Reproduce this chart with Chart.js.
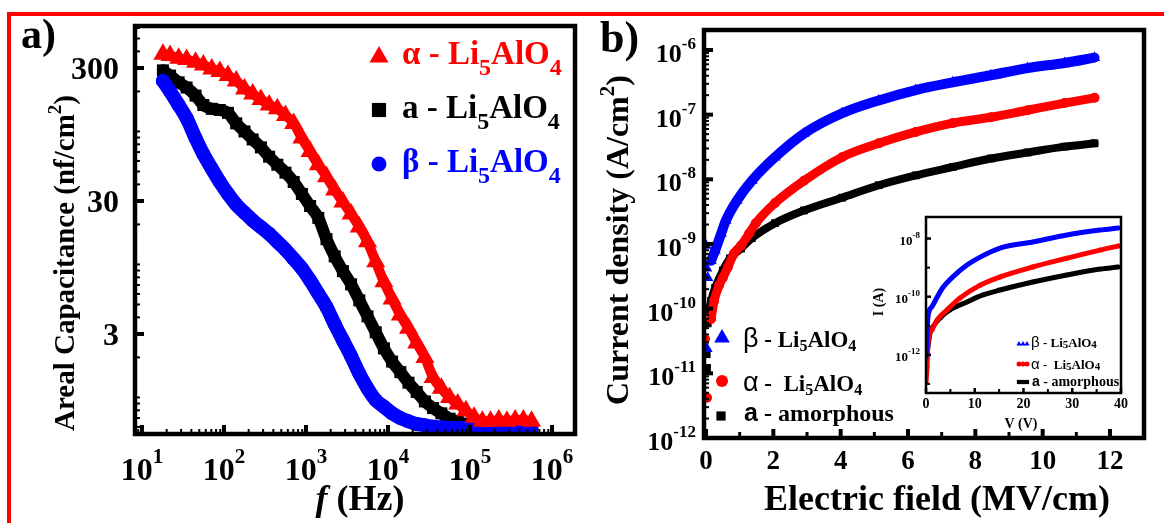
<!DOCTYPE html>
<html>
<head>
<meta charset="utf-8">
<script src="https://cdn.jsdelivr.net/npm/chart.js@4.4.0/dist/chart.umd.min.js"></script>
<style>
  body { margin: 0; background: #fff; }
  #page { position: relative; width: 1164px; height: 523px; overflow: hidden; background: #fff; }
  #page canvas { position: absolute; left: 0; top: 0; }
  #frame { position: absolute; left: 7px; top: 12px; right: -10px; bottom: -10px;
           border-top: 4px solid #ff0000; border-left: 4px solid #ff0000; }
</style>
</head>
<body>
<div id="page">
  <div id="frame"></div>
  <canvas id="capChart" width="1164" height="523"></canvas>
  <canvas id="ivChart" width="1164" height="523"></canvas>
  <canvas id="insetChart" width="1164" height="523"></canvas>
</div>
<script>
const SERIF = '"Liberation Serif", "Times New Roman", serif';
const SANS = '"Liberation Sans", Arial, sans-serif';
const RED = '#ff0000', BLUE = '#0000ff', BLACK = '#000000';

// (a) areal capacitance vs frequency
const freqHz = [18, 22, 28, 35, 45, 56, 71, 89, 112, 141, 178, 224, 282, 355, 447, 562, 708, 891,
  1122, 1413, 1778, 2239, 2818, 3548, 4467, 5623, 7079, 8913, 11220, 14130, 17780, 22390, 28180,
  35480, 44670, 56230, 70790, 89130, 112200, 141300, 177800, 223900, 281800, 354800, 446700, 562300];
const capAlpha = [380, 372, 355, 347, 331, 316, 295, 282, 263, 240, 209, 191, 174, 158, 148, 132, 115, 89.1,
  70.8, 56.2, 45.7, 36.3, 29.5, 24.0, 19.1, 14.8, 10.5, 7.41, 5.50, 4.17, 3.31, 2.57, 2.00,
  1.41, 1.17, 1.00, 0.891, 0.794, 0.708, 0.661, 0.661, 0.676, 0.661, 0.676, 0.676, 0.661];
const capAmorph = [288, 263, 234, 214, 186, 158, 148, 145, 138, 115, 100, 87.1, 75.9, 64.6, 56.2, 49.0, 41.7, 33.9,
  27.5, 22.4, 15.5, 11.5, 8.91, 7.08, 5.37, 4.07, 3.09, 2.34, 1.86, 1.55, 1.29, 1.10, 0.933,
  0.832, 0.759, 0.692, 0.661, 0.631, 0.617, 0.610, 0.603, 0.603, 0.596, 0.589, 0.589, 0.589];
const capBeta = [240, 200, 158, 126, 89.1, 67.6, 52.5, 41.7, 33.9, 28.2, 24.5, 21.4, 19.1, 17.0, 14.8, 12.9, 11.0, 9.33,
  7.59, 6.03, 4.79, 3.55, 2.69, 2.04, 1.51, 1.17, 0.955, 0.851, 0.759, 0.700, 0.661, 0.631, 0.617,
  0.603, 0.596, 0.589, 0.589, 0.589, 0.582, 0.582, 0.578, 0.578, 0.575, 0.575, 0.575, 0.575];
const capTicks = [3, 30, 300];

// (b) current density vs electric field (MV/cm, A/cm2)
const fieldBeta = [0.15, 0.27, 0.45, 0.59, 0.92, 1.36, 2.05, 2.91, 4.04, 5.13, 6.23, 7.33, 8.46, 9.55, 10.65, 11.54];
const jBeta = [5.5e-10, 7.9e-10, 1.45e-9, 2.3e-9, 4.7e-9, 9.5e-9, 2.2e-8, 5.1e-8, 1.05e-7, 1.66e-7, 2.4e-7, 3.16e-7, 4.07e-7, 5.25e-7, 6.3e-7, 7.6e-7];
const fieldAlpha = [0.15, 0.24, 0.39, 0.5, 0.65, 0.83, 1.04, 1.28, 1.48, 2.05, 2.91, 4.04, 5.13, 6.23, 7.33, 8.46, 9.55, 10.65, 11.54];
const jAlpha = [6.9e-11, 1.32e-10, 2.3e-10, 3.0e-10, 4.4e-10, 7.1e-10, 9.5e-10, 1.45e-9, 2.1e-9, 4.3e-9, 9.5e-9, 2.2e-8, 3.6e-8, 5.4e-8, 7.4e-8, 9.1e-8, 1.17e-7, 1.51e-7, 1.82e-7];
const fieldAmorph = [0.09, 0.15, 0.27, 0.5, 0.71, 1.04, 1.36, 2.05, 2.91, 4.04, 5.13, 6.23, 7.33, 8.46, 9.55, 10.65, 11.54];
const jAmorph = [9.3e-11, 1.32e-10, 2.1e-10, 3.9e-10, 6.0e-10, 8.5e-10, 1.23e-9, 2.1e-9, 3.3e-9, 5.2e-9, 8.1e-9, 1.15e-8, 1.55e-8, 2.1e-8, 2.6e-8, 3.2e-8, 3.6e-8];
// scattered readings near zero field
const lowFieldBeta = [0.0, 0.02, 0.05, 0.03];
const lowJBeta = [9.5e-10, 4.2e-10, 3.0e-10, 2.4e-11];
const lowFieldAlpha = [-0.03, 0.03];
const lowJAlpha = [3.4e-11, 4.2e-12];
const lowFieldAmorph = [0.02, 0.01, 0.04];
const lowJAmorph = [1.2e-11, 2.0e-11, 6.0e-11];
const fieldTicks = [0, 2, 4, 6, 8, 10, 12];
const jExponents = [-12, -11, -10, -9, -8, -7, -6];

// inset: current vs voltage (V, A)
const voltBeta = [0, 0.4, 1.2, 2.3, 3.5, 5.5, 8.4, 11.1, 15.2, 21.9, 28.9, 35.7, 39.4];
const ampBeta = [8.5e-13, 2.0e-11, 4.5e-11, 9.8e-11, 2.1e-10, 4.8e-10, 1.23e-9, 2.3e-9, 4.7e-9, 7.6e-9, 1.32e-8, 1.95e-8, 2.3e-8];
const voltAlpha = [0, 0.2, 0.4, 1.2, 2.3, 4.3, 7.0, 11.1, 15.2, 21.9, 28.9, 35.7, 39.4];
const ampAlpha = [1.17e-13, 3.8e-13, 2.6e-12, 7.2e-12, 1.58e-11, 3.5e-11, 9.1e-11, 2.5e-10, 4.8e-10, 1.05e-9, 2.1e-9, 4.0e-9, 5.5e-9];
const voltAmorph = [0, 0.8, 1.4, 2.9, 4.9, 8.4, 11.7, 15.2, 21.9, 28.9, 35.7, 39.4];
const ampAmorph = [5.2e-13, 5.6e-12, 9.1e-12, 1.86e-11, 3.5e-11, 6.6e-11, 1.15e-10, 1.7e-10, 3.2e-10, 5.6e-10, 8.9e-10, 1.05e-9];
const voltTicks = [0, 10, 20, 30, 40];
const ampExponents = [-12, -10, -8];

function pairs(xs, ys) {
  return xs.map((v, i) => ({ x: v, y: ys[i] }));
}

// text made of runs with their own size / offset (sub- and superscripts)
function fontOf(p) {
  return (p.italic ? 'italic ' : '') + (p.weight || 'bold') + ' ' + p.size + 'px ' + (p.fam || SERIF);
}
function drawRich(ctx, parts, x, y, align, color) {
  ctx.save();
  ctx.fillStyle = color || BLACK;
  ctx.textAlign = 'left';
  ctx.textBaseline = 'alphabetic';
  let total = 0;
  const widths = parts.map(p => { ctx.font = fontOf(p); const w = ctx.measureText(p.t).width; total += w; return w; });
  let cx = align === 'center' ? x - total / 2 : align === 'right' ? x - total : x;
  parts.forEach((p, i) => {
    ctx.font = fontOf(p);
    ctx.fillText(p.t, cx, y + (p.dy || 0));
    cx += widths[i];
  });
  ctx.restore();
}
function drawRotated(ctx, parts, x, y, b) {
  ctx.save();
  ctx.translate(x, y);
  ctx.rotate(-Math.PI / 2);
  drawRich(ctx, parts, 0, b, 'center');
  ctx.restore();
}
function pow10(exp, size, supSize, rise) {
  return [{ t: '10', size: size }, { t: String(exp), size: supSize, dy: -rise }];
}

function marker(ctx, style, x, y, r, color) {
  ctx.save();
  ctx.fillStyle = color;
  ctx.beginPath();
  if (style === 'triangle') {
    ctx.moveTo(x, y - r);
    ctx.lineTo(x + r * 0.866, y + r * 0.5);
    ctx.lineTo(x - r * 0.866, y + r * 0.5);
    ctx.closePath();
  } else if (style === 'rect') {
    const s = r * Math.SQRT1_2;
    ctx.rect(x - s, y - s, 2 * s, 2 * s);
  } else {
    ctx.arc(x, y, r, 0, Math.PI * 2);
  }
  ctx.fill();
  ctx.restore();
}

function box(ctx, a, lw) {
  ctx.save();
  ctx.strokeStyle = BLACK;
  ctx.lineWidth = lw;
  ctx.strokeRect(a.left, a.top, a.right - a.left, a.bottom - a.top);
  ctx.restore();
}
function ticksX(ctx, scale, a, values, len, w) {
  values.forEach(v => {
    const px = scale.getPixelForValue(v);
    if (px < a.left - 1 || px > a.right + 1) return;
    ctx.fillRect(px - w / 2, a.bottom - len, w, len);
  });
}
function ticksY(ctx, scale, a, values, len, w) {
  values.forEach(v => {
    const py = scale.getPixelForValue(v);
    if (py < a.top - 1 || py > a.bottom + 1) return;
    ctx.fillRect(a.left, py - w / 2, len, w);
  });
}
function logMinors(lo, hi) {
  const out = [];
  for (let e = Math.floor(Math.log10(lo)); e <= Math.ceil(Math.log10(hi)); e++) {
    for (let m = 1; m < 10; m++) {
      const v = m * Math.pow(10, e);
      if (v >= lo && v <= hi) out.push(v);
    }
  }
  return out;
}

function bandSet(data, color, style, radius, width) {
  return {
    data: data, showLine: true, borderColor: color, backgroundColor: color,
    borderWidth: width, borderCapStyle: 'round', borderJoinStyle: 'round',
    cubicInterpolationMode: 'monotone',
    pointStyle: style, pointRadius: radius, pointBorderWidth: 0, pointHoverRadius: radius
  };
}
function dotSet(data, color, style, radius) {
  return {
    data: data, showLine: false, backgroundColor: color, borderColor: color,
    pointStyle: style, pointRadius: radius, pointBorderWidth: 0
  };
}

const baseOptions = {
  responsive: false,
  animation: false,
  devicePixelRatio: 1,
  plugins: { legend: { display: false }, tooltip: { enabled: false } },
  events: []
};

// ---------- panel (a) ----------
const capDecor = {
  id: 'capDecor',
  afterDraw(chart) {
    const { ctx, chartArea: a, scales: { x, y } } = chart;
    ctx.save();
    ctx.fillStyle = BLACK;
    ticksX(ctx, x, a, logMinors(x.min, x.max), 5, 2);
    ticksX(ctx, x, a, [10, 1e2, 1e3, 1e4, 1e5, 1e6], 9, 4);
    ticksY(ctx, y, a, logMinors(y.min, y.max), 5, 2);
    ticksY(ctx, y, a, capTicks, 9, 4);
    ctx.restore();
    box(ctx, a, 4.5);

    for (let k = 1; k <= 6; k++) {
      drawRich(ctx, pow10(k, 32, 21, 17), x.getPixelForValue(Math.pow(10, k)), 480, 'center');
    }
    capTicks.forEach(v => drawRich(ctx, [{ t: String(v), size: 32 }], 119, y.getPixelForValue(v) + 11, 'right'));

    drawRotated(ctx, [{ t: 'Areal Capacitance (nf/cm', size: 29 }, { t: '2', size: 19, dy: -13 }, { t: ')', size: 29 }], 65, 263, 9);
    drawRich(ctx, [{ t: 'f', size: 36, italic: true }, { t: ' (Hz)', size: 36 }], 360, 510, 'center');
    drawRich(ctx, [{ t: 'a)', size: 42 }], 21, 48, 'left');

    const rows = [
      { c: RED, s: 'triangle', r: 11, g: 'α', y: 64, my: 57 },
      { c: BLACK, s: 'rect', r: 10, g: 'a', y: 118, my: 110 },
      { c: BLUE, s: 'circle', r: 7.5, g: 'β', y: 172, my: 164 }
    ];
    rows.forEach(row => {
      marker(ctx, row.s, 379, row.my, row.r, row.c);
      drawRich(ctx, [{ t: row.g + ' - Li', size: 33 }, { t: '5', size: 24, dy: 11 }, { t: 'AlO', size: 33 }, { t: '4', size: 24, dy: 11 }],
        402, row.y, 'left', row.c);
    });
  }
};

new Chart(document.getElementById('capChart'), {
  type: 'scatter',
  data: {
    datasets: [
      bandSet(pairs(freqHz, capAlpha), RED, 'triangle', 11, 10),
      bandSet(pairs(freqHz, capBeta), BLUE, 'circle', 7, 14),
      bandSet(pairs(freqHz, capAmorph), BLACK, 'rect', 8.5, 12)
    ]
  },
  options: Object.assign({}, baseOptions, {
    layout: { padding: { left: 135, top: 26, right: 1164 - 575, bottom: 523 - 434 } },
    scales: {
      x: { type: 'logarithmic', display: false, min: Math.pow(10, 0.915), max: Math.pow(10, 6.28) },
      y: { type: 'logarithmic', display: false, min: Math.pow(10, -0.275), max: Math.pow(10, 2.793) }
    }
  }),
  plugins: [capDecor]
});

// ---------- panel (b) ----------
const ivDecor = {
  id: 'ivDecor',
  afterDraw(chart) {
    const { ctx, chartArea: a, scales: { x, y } } = chart;
    ctx.save();
    ctx.fillStyle = BLACK;
    ticksX(ctx, x, a, [1, 3, 5, 7, 9, 11], 6, 3);
    ticksX(ctx, x, a, fieldTicks, 9, 4);
    ticksY(ctx, y, a, logMinors(y.min, y.max), 5, 2);
    ticksY(ctx, y, a, jExponents.map(e => Math.pow(10, e)), 9, 4);
    ctx.restore();
    box(ctx, a, 4.5);

    fieldTicks.forEach(v => drawRich(ctx, [{ t: String(v), size: 27 }], x.getPixelForValue(v), 469, 'center'));
    jExponents.forEach(e => drawRich(ctx, pow10(e, 26, 17, 13), 696, y.getPixelForValue(Math.pow(10, e)) + 12, 'right'));

    drawRotated(ctx, [{ t: 'Current density (A/cm', size: 32 }, { t: '2', size: 21, dy: -14 }, { t: ')', size: 32 }], 617, 240, 11);
    drawRich(ctx, [{ t: 'Electric field (MV/cm)', size: 36 }], 937, 510, 'center');
    drawRich(ctx, [{ t: 'b)', size: 44 }], 600, 52, 'left');

    const rows = [
      { c: BLUE, s: 'triangle', r: 9, g: 'β', sep: ' - ', y: 347, my: 338 },
      { c: RED, s: 'circle', r: 6, g: 'α', sep: ' -  ', y: 391, my: 381 },
    ];
    rows.forEach(row => {
      marker(ctx, row.s, 722, row.my, row.r, row.c);
      drawRich(ctx, [{ t: row.g, size: 27, fam: SANS, weight: 'normal' }, { t: row.sep + 'Li', size: 23 },
        { t: '5', size: 16, dy: 4 }, { t: 'AlO', size: 23 }, { t: '4', size: 16, dy: 4 }], 743, row.y, 'left');
    });
    marker(ctx, 'rect', 721, 416, 6.5, BLACK);
    drawRich(ctx, [{ t: 'a', size: 25, fam: SANS }, { t: ' - amorphous', size: 24 }], 744, 421, 'left');
  }
};

new Chart(document.getElementById('ivChart'), {
  type: 'scatter',
  data: {
    datasets: [
      dotSet(pairs(lowFieldBeta, lowJBeta), BLUE, 'triangle', 6.5),
      bandSet(pairs(fieldBeta, jBeta), BLUE, 'triangle', 6.5, 10),
      dotSet(pairs(lowFieldAlpha, lowJAlpha), RED, 'circle', 5),
      bandSet(pairs(fieldAlpha, jAlpha), RED, 'circle', 5, 9),
      dotSet(pairs(lowFieldAmorph, lowJAmorph), BLACK, 'rect', 6),
      bandSet(pairs(fieldAmorph, jAmorph), BLACK, 'rect', 5.5, 8)
    ]
  },
  options: Object.assign({}, baseOptions, {
    layout: { padding: { left: 704, top: 30, right: 1164 - 1144, bottom: 523 - 438 } },
    scales: {
      x: { type: 'linear', display: false, min: -0.06, max: 13.01 },
      y: { type: 'logarithmic', display: false, min: 1e-12, max: Math.pow(10, -5.691) }
    }
  }),
  plugins: [ivDecor]
});

// ---------- inset I-V ----------
const insetDecor = {
  id: 'insetDecor',
  beforeDatasetsDraw(chart) {
    const { ctx, chartArea: a } = chart;
    ctx.save();
    ctx.fillStyle = '#fff';
    ctx.fillRect(a.left, a.top, a.right - a.left, a.bottom - a.top);
    ctx.restore();
  },
  afterDraw(chart) {
    const { ctx, chartArea: a, scales: { x, y } } = chart;
    ctx.save();
    ctx.fillStyle = BLACK;
    ticksX(ctx, x, a, [5, 15, 25, 35], 4, 2);
    ticksX(ctx, x, a, voltTicks, 5, 2.5);
    ticksY(ctx, y, a, [1e-13, 1e-11, 1e-9], 4, 2);
    ticksY(ctx, y, a, ampExponents.map(e => Math.pow(10, e)), 5, 2.5);
    ctx.restore();
    box(ctx, a, 2.5);

    voltTicks.forEach(v => drawRich(ctx, [{ t: String(v), size: 14 }], x.getPixelForValue(v), 408, 'center'));
    ampExponents.forEach(e => drawRich(ctx, pow10(e, 13, 9, 7), 920, y.getPixelForValue(Math.pow(10, e)) + 6, 'right'));
    drawRotated(ctx, [{ t: 'I (A)', size: 14 }], 878, 302, 5);
    drawRich(ctx, [{ t: 'V (V)', size: 14 }], 1021, 428, 'center');

    const rows = [
      { c: BLUE, s: 'triangle', r: 3, g: 'β', sep: ' - ', y: 347, my: 344 },
      { c: RED, s: 'circle', r: 2.5, g: 'α', sep: ' -  ', y: 369, my: 364 }
    ];
    rows.forEach(row => {
      [1019, 1023, 1027].forEach(mx => marker(ctx, row.s, mx, row.my, row.r, row.c));
      drawRich(ctx, [{ t: row.g, size: 15, fam: SANS, weight: 'normal' }, { t: row.sep + 'Li', size: 13 },
        { t: '5', size: 11, dy: 1 }, { t: 'AlO', size: 13 }, { t: '4', size: 11, dy: 1 }], 1031, row.y, 'left');
    });
    [1019, 1023, 1027].forEach(mx => marker(ctx, 'rect', mx, 382, 3, BLACK));
    drawRich(ctx, [{ t: 'a', size: 14, fam: SANS }, { t: ' - amorphous', size: 14 }], 1032, 386, 'left');
  }
};

new Chart(document.getElementById('insetChart'), {
  type: 'scatter',
  data: {
    datasets: [
      bandSet(pairs(voltBeta, ampBeta), BLUE, 'triangle', 2.5, 5),
      bandSet(pairs(voltAlpha, ampAlpha), RED, 'circle', 2.5, 5),
      bandSet(pairs(voltAmorph, ampAmorph), BLACK, 'rect', 3, 5)
    ]
  },
  options: Object.assign({}, baseOptions, {
    layout: { padding: { left: 926, top: 217, right: 1164 - 1121, bottom: 523 - 393 } },
    scales: {
      x: { type: 'linear', display: false, min: 0, max: 40 },
      y: { type: 'logarithmic', display: false, min: Math.pow(10, -13.31), max: Math.pow(10, -7.26) }
    }
  }),
  plugins: [insetDecor]
});
</script>
</body>
</html>
